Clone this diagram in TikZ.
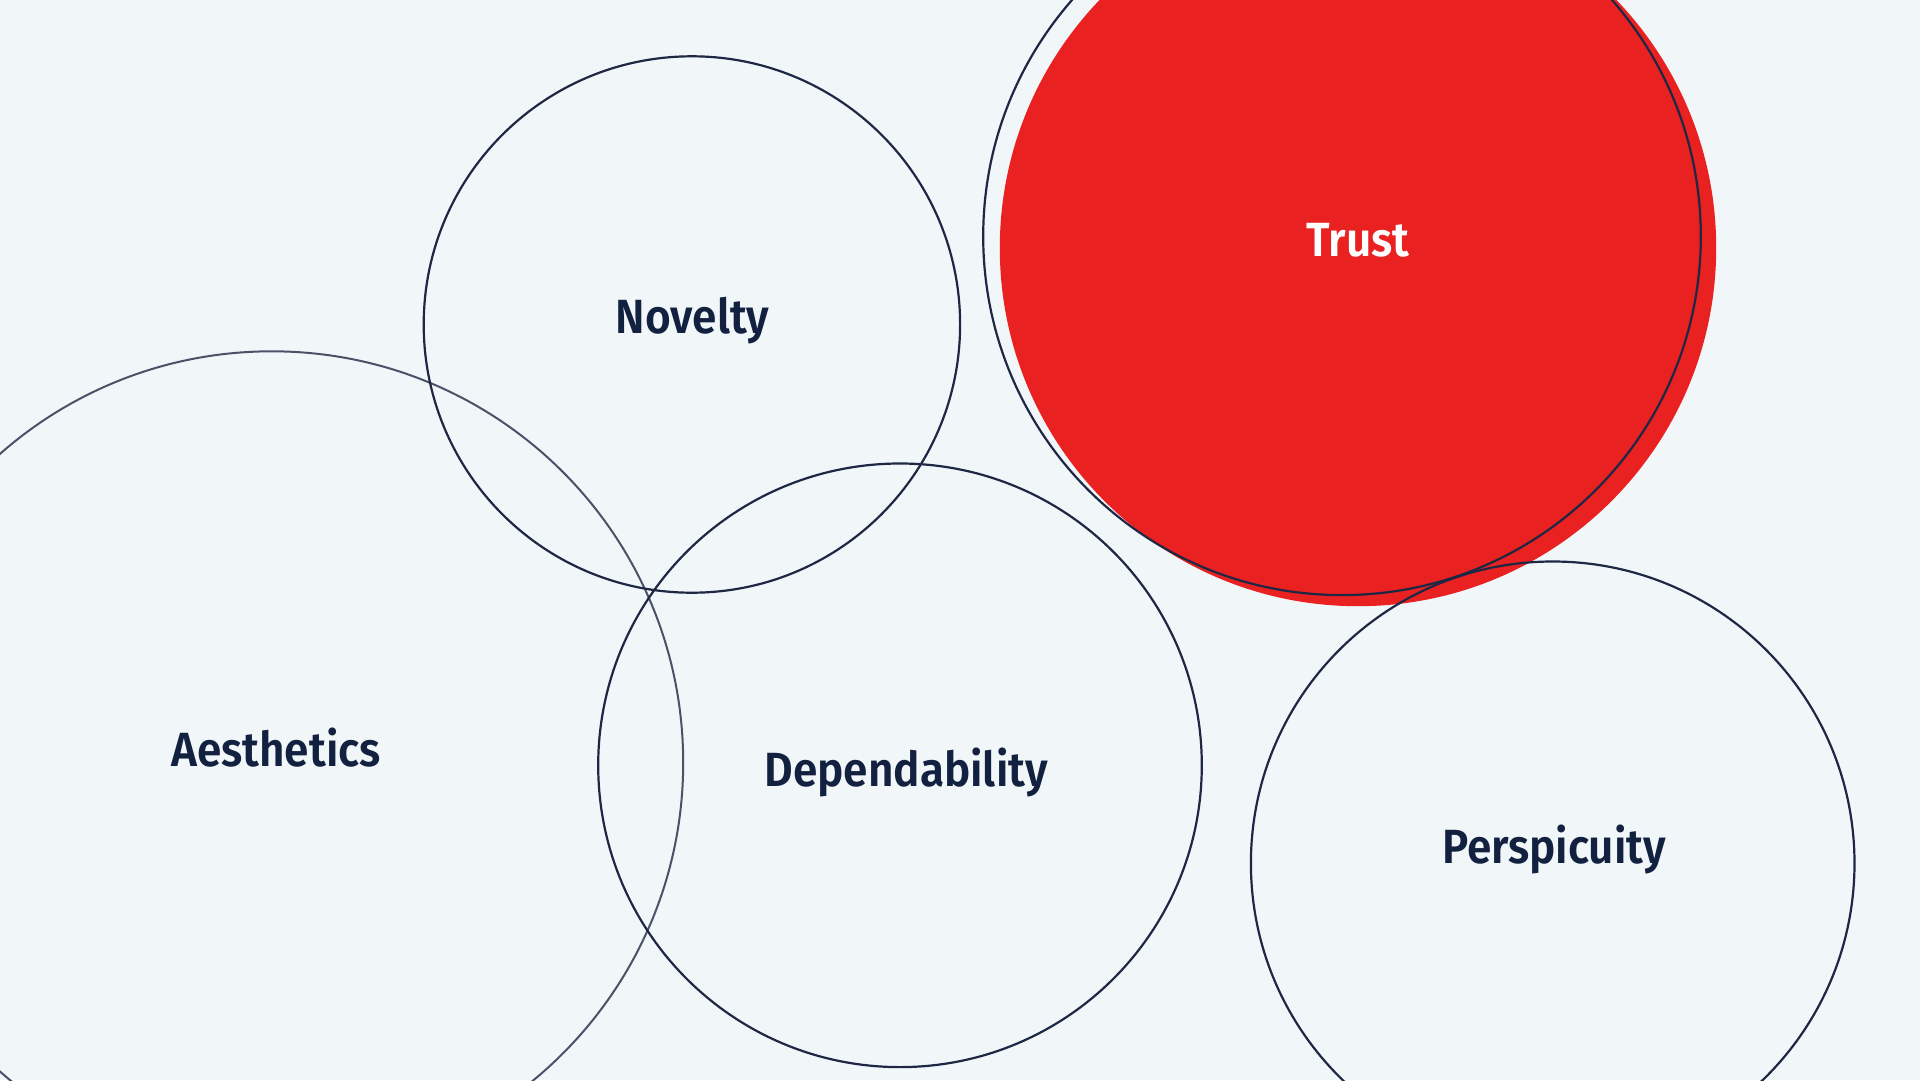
\documentclass[tikz,border=0pt]{standalone}
\usepackage{fontspec}
\setmainfont{Fira Sans}[BoldFont={Fira Sans SemiBold},FakeStretch=0.92]
\definecolor{bg}{HTML}{F1F6F9}
\definecolor{navy}{HTML}{12213F}
\definecolor{ring}{HTML}{1E2744}
\definecolor{ringlight}{HTML}{4B5268}
\definecolor{trustred}{HTML}{E92121}
\begin{document}
\begin{tikzpicture}[x=1pt,y=-1pt,
  ringline/.style={draw=ring,line width=2.2pt},
  lightring/.style={draw=ringlight,line width=2pt},
  lbl/.style={anchor=base,text=navy,font=\fontsize{48}{56}\selectfont\bfseries,inner sep=0pt},
  wlbl/.style={anchor=base,text=white,font=\fontsize{48}{56}\selectfont\bfseries,inner sep=0pt}]
\useasboundingbox (0,0) rectangle (1920,1080);
\fill[bg] (0,0) rectangle (1920,1080);
\begin{scope}
\clip (0,0) rectangle (1920,1080);
\fill[trustred] (1358,248) circle[radius=358.2];
\draw[lightring] (271.8,762.7) circle[radius=411.4];
\draw[ringline] (691.9,324.5) circle[radius=268.2];
\draw[ringline] (900,765.3) circle[radius=301.8];
\draw[ringline] (1552.7,863.3) circle[radius=301.8];
\draw[ringline] (1342,236.3) circle[radius=358.8];
\end{scope}
\node[lbl] (novelty) at (692.5,333) {Novelty};
\node[wlbl] (trust) at (1358,256) {Trust};
\node[lbl] (aesthetics) at (276,766) {Aesthetics};
\node[lbl] (dependability) at (906,786) {Dependability};
\node[lbl] (perspicuity) at (1554,863) {Perspicuity};
\end{tikzpicture}
\end{document}
